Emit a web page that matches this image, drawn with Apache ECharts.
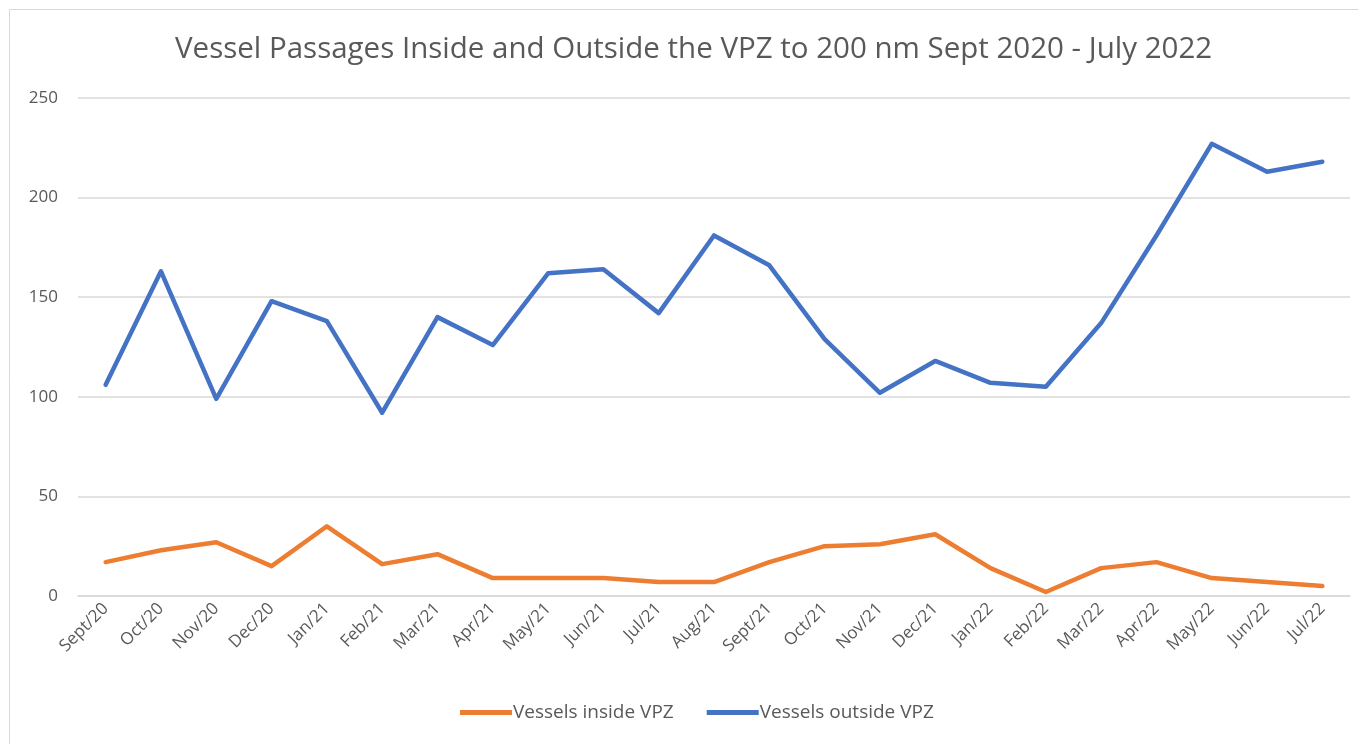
<!DOCTYPE html>
<html>
<head>
<meta charset="utf-8">
<script src="https://cdn.jsdelivr.net/npm/echarts@6/dist/echarts.min.js"></script>
<style>
html,body{margin:0;padding:0;background:#fff;}
#chart{width:1358px;height:744px;}
</style>
</head>
<body>
<div id="chart"></div>
<script>
const categories = ["Sept/20","Oct/20","Nov/20","Dec/20","Jan/21","Feb/21","Mar/21","Apr/21","May/21","Jun/21","Jul/21","Aug/21","Sept/21","Oct/21","Nov/21","Dec/21","Jan/22","Feb/22","Mar/22","Apr/22","May/22","Jun/22","Jul/22"];
const insideVPZ = [17,23,27,15,35,16,21,9,9,9,7,7,17,25,26,31,14,2,14,17,9,7,5];
const outsideVPZ = [106,163,99,148,138,92,140,126,162,164,142,181,166,129,102,118,107,105,137,181,227,213,218];
const yTicks = {min:0, max:250, interval:50};

const font = "'Open Sans', 'Noto Sans', sans-serif";
const chart = echarts.init(document.getElementById('chart'), null, {renderer:'canvas'});
chart.setOption({
  animation:false,
  backgroundColor:'#fff',
  graphic:[
    {type:'rect', shape:{x:9.5,y:9.5,width:1400,height:800}, style:{fill:'none', stroke:'#d9d9d9', lineWidth:1}, silent:true, z:-1}
  ],
  title:{text:'Vessel Passages Inside and Outside the VPZ to 200 nm Sept 2020 - July 2022', left:170, top:30,
    textStyle:{fontFamily:font, fontSize:29.5, fontWeight:'normal', color:'#595959'}},
  grid:{left:78, top:98, width:1272, height:498, containLabel:false, outerBoundsMode:'none'},
  legend:{bottom:17, left:455, itemWidth:52, itemHeight:5, itemGap:33, icon:'rect',
    textStyle:{fontFamily:font, fontSize:19, color:'#595959', padding:[0,0,0,-4]},
    data:['Vessels inside VPZ','Vessels outside VPZ']},
  xAxis:{type:'category', data:categories, boundaryGap:true,
    axisLine:{show:true, lineStyle:{color:'#d9d9d9', width:1.5}}, axisTick:{show:false},
    axisLabel:{rotate:45, fontFamily:font, fontSize:17, color:'#595959', margin:10, interval:0}},
  yAxis:{type:'value', min:yTicks.min, max:yTicks.max, interval:yTicks.interval,
    axisLine:{show:false}, axisTick:{show:false},
    splitLine:{lineStyle:{color:'#d9d9d9', width:1.5}},
    axisLabel:{fontFamily:font, fontSize:17, color:'#595959', margin:20}},
  series:[
    {name:'Vessels inside VPZ', type:'line', data:insideVPZ, showSymbol:false, symbol:'none',
      lineStyle:{color:'#ED7D31', width:4.5, cap:'round', join:'round'}, itemStyle:{color:'#ED7D31'}},
    {name:'Vessels outside VPZ', type:'line', data:outsideVPZ, showSymbol:false, symbol:'none',
      lineStyle:{color:'#4472C4', width:4.5, cap:'round', join:'round'}, itemStyle:{color:'#4472C4'}}
  ]
});
</script>
</body>
</html>
